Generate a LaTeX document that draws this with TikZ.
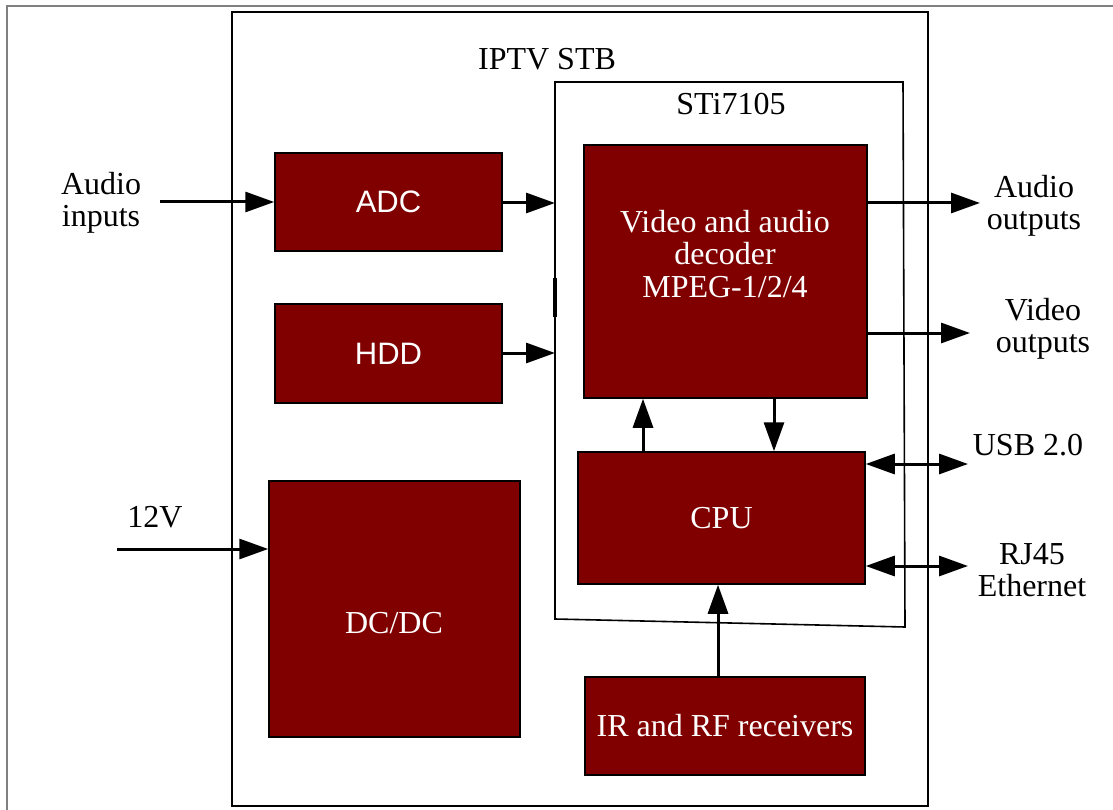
\documentclass[tikz,border=0pt]{standalone}
\usepackage{fontspec}
\setmainfont{Liberation Serif}
\newfontfamily\arialfont{Liberation Sans}
\usetikzlibrary{arrows.meta}
\definecolor{boxred}{RGB}{128,0,0}
\definecolor{framegray}{RGB}{128,128,128}
\tikzset{
  blk/.style={draw=black, line width=1.5pt, fill=boxred, inner sep=0pt},
  wtext/.style={text=white, font=\fontsize{32}{32.5}\selectfont, align=center, inner sep=0pt},
  btext/.style={text=black, font=\fontsize{32}{32.5}\selectfont, align=center, inner sep=0pt},
  conn/.style={line width=3pt, -{Triangle[length=29pt,width=20pt]}},
  bconn/.style={line width=3pt, {Triangle[length=29pt,width=20pt]}-{Triangle[length=29pt,width=20pt]}},
}
\begin{document}
\begin{tikzpicture}[x=1pt, y=-1pt]
\useasboundingbox (0,0) rectangle (1113,810);
% outer gray frame
\draw[framegray, line width=2.5pt] (7,812) -- (7,6) -- (1115,6);
% IPTV STB box
\draw[black, line width=2pt] (232,12) rectangle (928,806);
\node[btext] (stbtitle) at (547,59) {IPTV STB};
% STi7105 box
\draw[black, line width=1.6pt] (555,82) -- (903,82) -- (905,627) -- (555,619) -- cycle;
\draw[black, line width=3.5pt] (555,278) -- (555,317);
\node[btext] (stititle) at (731,104) {STi7105};
% blocks
\node[blk, minimum width=227pt, minimum height=98pt] (adc) at (388.5,202) {};
\node[wtext, font=\arialfont\fontsize{31}{32}\selectfont] (adct) at (adc.center) {ADC};
\node[blk, minimum width=227pt, minimum height=99pt] (hdd) at (388.5,353.5) {};
\node[wtext, font=\arialfont\fontsize{31}{32}\selectfont] (hddt) at (hdd.center) {HDD};
\node[blk, minimum width=251pt, minimum height=256pt] (dcdc) at (394.5,609) {};
\node[wtext] (dcdct) at (394,623) {DC/DC};
\node[blk, minimum width=283pt, minimum height=253pt] (dec) at (725.5,271.5) {};
\node[wtext] (dect) at (725,254) {Video and audio\\decoder\\MPEG-1/2/4};
\node[blk, minimum width=287pt, minimum height=132pt] (cpu) at (721.5,518) {};
\node[wtext] (cput) at (cpu.center) {CPU};
\node[blk, minimum width=280pt, minimum height=98pt] (ir) at (725,726) {};
\node[wtext] (irt) at (ir.center) {IR and RF receivers};
% external labels
\node[btext] (ain) at (101,203) {Audio\\inputs};
\node[btext] (v12) at (155,517) {12V};
\node[btext] (aout) at (1034,206) {Audio\\outputs};
\node[btext] (vout) at (1043,329) {Video\\outputs};
\node[btext] (usb) at (1028,445) {USB 2.0};
\node[btext] (rj) at (1032,570) {RJ45\\Ethernet};
% coordinates
\coordinate (ainS) at (160,202);
\coordinate (adcE) at (555,203);
\coordinate (hddE) at (555,353);
\coordinate (in12) at (117,549);
\coordinate (aoutE) at (980,203);
\coordinate (voutE) at (970,333);
\coordinate (usbE) at (968,464);
\coordinate (rjE) at (968,566);
% connectors
\draw[conn] (ainS) -- (adc.west |- ainS);
\draw[conn] (adc.east |- adcE) -- (adcE);
\draw[conn] (hdd.east |- hddE) -- (hddE);
\draw[conn] (in12) -- (dcdc.west |- in12);
\draw[conn] (dec.east |- aoutE) -- (aoutE);
\draw[conn] (dec.east |- voutE) -- (voutE);
\draw[bconn] (cpu.east |- usbE) -- (usbE);
\draw[bconn] (cpu.east |- rjE) -- (rjE);
\draw[conn] (cpu.north -| 643,0) -- (dec.south -| 643,0);
\draw[conn] (dec.south -| 774,0) -- (cpu.north -| 774,0);
\draw[conn] (ir.north -| 718,0) -- (cpu.south -| 718,0);
\end{tikzpicture}
\end{document}
